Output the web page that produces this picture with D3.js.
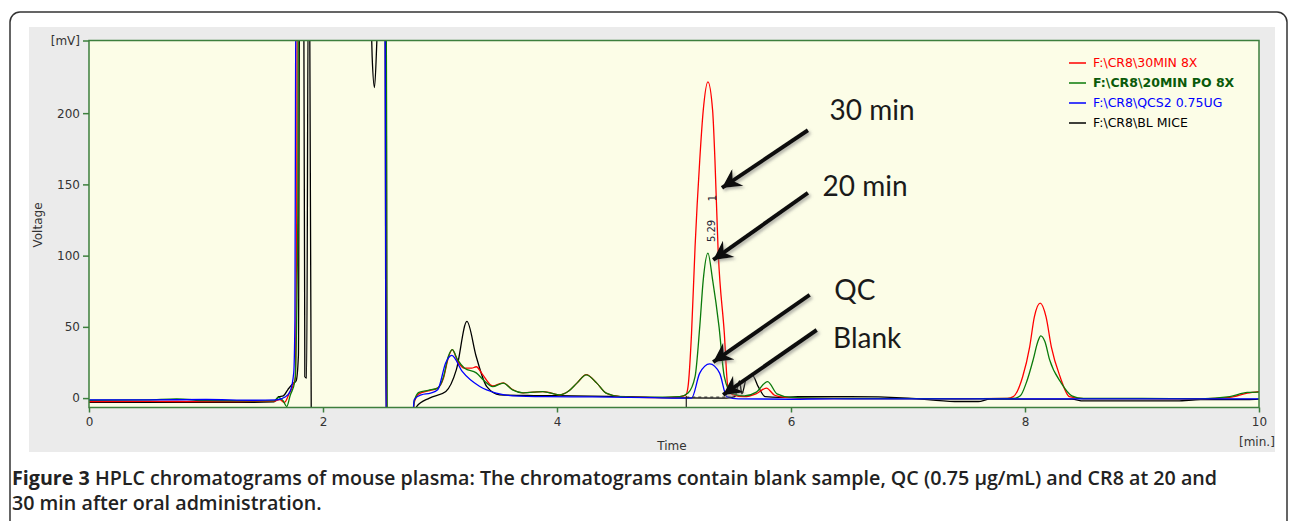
<!DOCTYPE html>
<head>
<meta charset="utf-8">
<script src="https://d3js.org/d3.v7.min.js"></script>
<style>
  body { margin: 0; background: #fff; }
  svg { display: block; }
</style>
</head>
<body>
<script>
// chromatogram traces, [time (min), signal (mV)]; values above/below the window are clipped
const red30min = [
  [0,-2.4],[0.5,-2.3],[1.0,-2.5],[1.4,-2.3],[1.58,-2.2],[1.63,-1],[1.67,-3],[1.71,3],[1.74,8],[1.765,15],
  [1.775,120],[1.78,300],[2.54,300],[2.545,-20],[2.76,-20],[2.78,-3],[2.82,3],[2.9,5],[2.98,7],[3.03,14],
  [3.07,28],[3.105,34],[3.15,26],[3.21,21],[3.27,21],[3.31,22],[3.36,17],[3.45,8.5],[3.54,10.7],[3.62,6],
  [3.71,3.7],[3.8,4.2],[3.88,4.6],[3.95,3.5],[4.02,2.3],[4.1,5],[4.17,10.5],[4.25,16.5],[4.34,10.5],[4.42,3.5],
  [4.54,1.1],[4.7,0.5],[4.9,0.3],[5.05,1],[5.1,2],[5.12,8],[5.15,45.6],[5.18,106],[5.22,167],[5.25,202],
  [5.29,222],[5.33,202],[5.35,167],[5.376,106],[5.43,45.6],[5.46,8],[5.5,2.5],[5.6,1],[5.7,3],[5.79,7],
  [5.86,2],[5.95,0.5],[6.2,-0.3],[6.8,-0.4],[7.4,-0.5],[7.85,-0.2],[7.9,1],[7.98,15],[8.04,36],[8.08,57],
  [8.13,66.7],[8.18,57],[8.225,36],[8.3,15],[8.38,1],[8.5,-0.4],[9.0,-0.4],[9.5,-0.5],[9.75,0.5],[9.9,3.5],[10,4.6]
];
const green20min = [
  [0,-1.5],[0.5,-1.2],[0.75,-0.5],[1.0,-1.8],[1.4,-1.9],[1.58,-2],[1.62,0.5],[1.66,-2],[1.69,-6],[1.72,2],
  [1.76,12],[1.785,130],[1.79,300],[2.54,300],[2.55,-20],[2.76,-20],[2.78,-2],[2.82,4],[2.9,5.5],[2.98,7],
  [3.03,15],[3.07,29],[3.105,34],[3.15,27],[3.21,21],[3.31,17.7],[3.38,12],[3.45,8],[3.54,10.5],[3.62,5.8],
  [3.71,3.7],[3.88,4.6],[4.02,2.3],[4.1,5],[4.17,10.5],[4.25,16.3],[4.34,10.5],[4.42,3.5],[4.54,1.1],[4.8,0.5],
  [5.05,1],[5.12,3.5],[5.18,15],[5.22,50],[5.25,83],[5.29,101.7],[5.33,83],[5.385,50],[5.43,15],[5.49,3.5],
  [5.6,1.5],[5.7,4],[5.8,11.6],[5.88,3],[6.0,0.5],[6.5,-0.3],[7.0,-0.4],[7.5,-0.5],[7.9,-0.3],[7.96,1.6],
  [8.01,10.5],[8.07,27],[8.11,39.7],[8.135,43.7],[8.17,39.7],[8.21,27],[8.31,10.5],[8.40,1.6],[8.5,-0.3],
  [9.0,-0.3],[9.5,-0.5],[9.75,1],[9.9,4],[10,4.2]
];
const blueQC = [
  [0,-1.2],[0.5,-1.3],[1.0,-1.0],[1.4,-1.5],[1.6,-1.2],[1.68,1],[1.72,5],[1.75,18],[1.76,55],[1.765,211],
  [1.77,300],[2.53,300],[2.535,130],[2.54,-20],[2.76,-20],[2.78,-1],[2.84,2.3],[2.92,3.5],[2.98,5.8],[3.05,25],
  [3.1,30],[3.19,18.7],[3.34,8.1],[3.48,3.5],[3.62,1.6],[3.9,1],[4.3,0.8],[4.8,0.3],[5.05,0],[5.15,0],
  [5.22,17.5],[5.305,24],[5.39,17.5],[5.45,1.1],[5.55,-0.5],[6.0,-0.8],[6.36,-0.5],[7,-0.6],[8,-0.6],[9,-0.6],[10,-0.5]
];
const blackBlank = [
  [0,-3],[0.5,-3],[1.0,-2.9],[1.4,-3],[1.58,-2.7],[1.62,1],[1.66,1.5],[1.7,6],[1.74,10],[1.77,12],
  [1.79,30],[1.8,300],[1.835,300],[1.845,15],[1.86,14],[1.875,300],[1.885,300],[1.9,-20],
  null,
  [2.40,300],[2.42,240],[2.44,218],[2.46,250],[2.48,300],[2.53,300],[2.535,90],[2.54,-20],[2.78,-20],[2.8,-6],
  [2.91,0],[3.05,4.7],[3.14,20],[3.23,53.8],[3.31,29],[3.4,8],[3.51,2.3],[3.8,1.8],[4.14,1.6],[4.6,1],
  [5.0,0.2],[5.45,0],[5.52,1],[5.56,12],[5.58,3],[5.62,14],[5.67,16],[5.72,8],[5.78,1],[5.9,0.5],
  [6.06,1],[6.5,1],[7.0,0],[7.4,-2.4],[7.6,-2.4],[7.7,-0.7],[8.4,-0.7],[8.5,-2],[9.3,-2],[9.5,-1],[9.9,-1],[10,-0.7]
];

const legendLabels = ["F:\\CR8\\30MIN 8X", "F:\\CR8\\20MIN PO 8X", "F:\\CR8\\QCS2 0.75UG", "F:\\CR8\\BL MICE"];
const seriesColors = ["#ff0000", "#0a7a0a", "#0000ff", "#000000"];
const yTicks = [0, 50, 100, 150, 200];
const xTicks = [0, 2, 4, 6, 8, 10];

// annotation arrows: [from, to] in data units, and the labels next to them
const arrows = [
  [[6.145, 188], [5.41, 147.5]],
  [[6.145, 144], [5.335, 97]],
  [[6.16, 72.4], [5.335, 25.3]],
  [[6.22, 47.8], [5.42, 2.2]]
];
const arrowLabels = [["30 min", 6.33, 195], ["20 min", 6.27, 141.8], ["QC", 6.37, 68.9], ["Blank", 6.36, 35.2]];

const W = 1290, H = 521;
const svg = d3.select("body").append("svg").attr("width", W).attr("height", H);

const x = d3.scaleLinear().domain([0, 10]).range([89, 1259]),
      y = d3.scaleLinear().domain([-6.6, 251]).range([407.5, 40.5]);

const defs = svg.append("defs");
defs.append("clipPath").attr("id", "plotclip").append("rect")
  .attr("x", x(0)).attr("y", y(251)).attr("width", x(10) - x(0)).attr("height", y(-6.6) - y(251));
defs.append("marker").attr("id", "head")
  .attr("markerUnits", "userSpaceOnUse")
  .attr("viewBox", "0 0 22 20").attr("markerWidth", 22).attr("markerHeight", 20)
  .attr("refX", 20).attr("refY", 10).attr("orient", "auto")
  .append("path").attr("d", "M20,10 L1,0 L7,10 L1,20 Z").attr("fill", "#111");
const shadow = defs.append("filter").attr("id", "shadow").attr("x", "-20%").attr("y", "-20%").attr("width", "150%").attr("height", "150%");
shadow.append("feDropShadow").attr("dx", 2).attr("dy", 2).attr("stdDeviation", 1.5)
  .attr("flood-color", "#777").attr("flood-opacity", 0.55);

// outer rounded frame and grey panel
svg.append("rect").attr("x", 10).attr("y", 12).attr("width", 1277).attr("height", 540).attr("rx", 10)
  .attr("fill", "#fff").attr("stroke", "#333").attr("stroke-width", 1.5);
svg.append("rect").attr("x", 29).attr("y", 27).attr("width", 1246).attr("height", 425).attr("fill", "#ebebeb");
svg.append("rect").attr("x", x(0)).attr("y", y(251)).attr("width", x(10) - x(0)).attr("height", y(-6.6) - y(251))
  .attr("fill", "#fcfde7");

// axes
const axisColor = "#3d7f3d";
const axisFont = "DejaVu Sans, Verdana, sans-serif";
const gy = svg.append("g").attr("transform", `translate(${x(0)},0)`)
  .call(d3.axisLeft(y).tickValues(yTicks.concat([251])).tickSize(6).tickPadding(3)
    .tickFormat(d => d === 251 ? "[mV]" : d));
const gx = svg.append("g").attr("transform", `translate(0,${y(-6.6)})`)
  .call(d3.axisBottom(x).tickValues(xTicks).tickSize(5).tickPadding(5));
[gx, gy].forEach(g => {
  g.select(".domain").remove();
  g.selectAll("line").attr("stroke", axisColor).attr("stroke-width", 1.5);
  g.selectAll("text").attr("fill", "#333").style("font-family", axisFont).style("font-size", "12px");
});

svg.append("text").attr("transform", `translate(42,225) rotate(-90)`).attr("text-anchor", "middle")
  .style("font-family", axisFont).style("font-size", "12px").attr("fill", "#333").text("Voltage");
svg.append("text").attr("x", 672).attr("y", 450).attr("text-anchor", "middle")
  .style("font-family", axisFont).style("font-size", "12px").attr("fill", "#333").text("Time");
svg.append("text").attr("x", 1239).attr("y", 446)
  .style("font-family", axisFont).style("font-size", "12px").attr("fill", "#333").text("[min.]");

// traces
const line = d3.line().defined(d => d).x(d => x(d[0])).y(d => y(d[1])).curve(d3.curveMonotoneX);
const plot = svg.append("g").attr("clip-path", "url(#plotclip)");
const traces = [blackBlank, red30min, green20min, blueQC];
const traceColors = [seriesColors[3], seriesColors[0], seriesColors[1], seriesColors[2]];
plot.selectAll("path.trace").data(traces).enter().append("path")
  .attr("class", "trace")
  .attr("d", line)
  .attr("fill", "none")
  .attr("stroke", (d, i) => traceColors[i])
  .attr("stroke-width", 1.3);

// integration marks of the 5.29 peak
plot.append("line").attr("x1", x(5.105)).attr("x2", x(5.105)).attr("y1", y(1.5)).attr("y2", y(-6.6))
  .attr("stroke", "#222").attr("stroke-width", 1.2);
plot.append("line").attr("x1", x(5.105)).attr("x2", x(5.5)).attr("y1", y(0.7)).attr("y2", y(0.7))
  .attr("stroke", "#222").attr("stroke-width", 1).attr("stroke-dasharray", "3,3");
svg.append("text").attr("transform", `translate(${x(5.322)},${y(117.3)}) rotate(-90)`).attr("text-anchor", "middle")
  .attr("dy", "0.35em").style("font-family", axisFont).style("font-size", "10px").attr("fill", "#223").text("5.29");
svg.append("text").attr("transform", `translate(${x(5.328)},${y(140.4)}) rotate(-90)`).attr("text-anchor", "middle")
  .attr("dy", "0.35em").style("font-family", axisFont).style("font-size", "10px").attr("fill", "#223").text("1");

// plot frame
svg.append("rect").attr("x", x(0)).attr("y", y(251)).attr("width", x(10) - x(0)).attr("height", y(-6.6) - y(251))
  .attr("fill", "none").attr("stroke", axisColor).attr("stroke-width", 1.5);

// legend
const legend = svg.append("g").attr("transform", "translate(1069,63)");
legendLabels.forEach((lab, i) => {
  const row = legend.append("g").attr("transform", `translate(0,${i * 20})`);
  row.append("line").attr("x1", 0).attr("x2", 17).attr("stroke", seriesColors[i]).attr("stroke-width", 1.5);
  row.append("text").attr("x", 24).attr("dy", "0.35em")
    .style("font-family", axisFont).style("font-size", "12.5px")
    .style("font-weight", i === 1 ? "bold" : "normal")
    .attr("fill", i === 1 ? "#0a5a0a" : seriesColors[i]).text(lab);
});

// annotations
const ann = svg.append("g").attr("filter", "url(#shadow)");
ann.selectAll("line").data(arrows).enter().append("line")
  .attr("x1", d => x(d[0][0])).attr("y1", d => y(d[0][1]))
  .attr("x2", d => x(d[1][0])).attr("y2", d => y(d[1][1]))
  .attr("stroke", "#111").attr("stroke-width", 4).attr("marker-end", "url(#head)");
svg.selectAll("text.ann").data(arrowLabels).enter().append("text")
  .attr("class", "ann")
  .attr("x", d => x(d[1])).attr("y", d => y(d[2]))
  .style("font-family", "Lato, 'Open Sans', sans-serif").style("font-size", "28px")
  .attr("fill", "#1a1a1a").text(d => d[0]);

// caption
const cap = svg.append("g").style("font-family", "'Open Sans', 'Noto Sans', sans-serif").attr("fill", "#222");
const l1 = cap.append("text").attr("x", 12).attr("y", 485).style("font-size", "20px");
l1.append("tspan").style("font-weight", "bold").text("Figure 3");
l1.append("tspan").style("font-weight", "600").text(" HPLC chromatograms of mouse plasma: The chromatograms contain blank sample, QC (0.75 µg/mL) and CR8 at 20 and");
const w1 = l1.node().getComputedTextLength();
const fs = 20 * 1206 / w1;
l1.style("font-size", fs + "px");
cap.append("text").attr("x", 12).attr("y", 510).style("font-size", fs + "px").style("font-weight", "600")
  .text("30 min after oral administration.");
</script>
</body>
